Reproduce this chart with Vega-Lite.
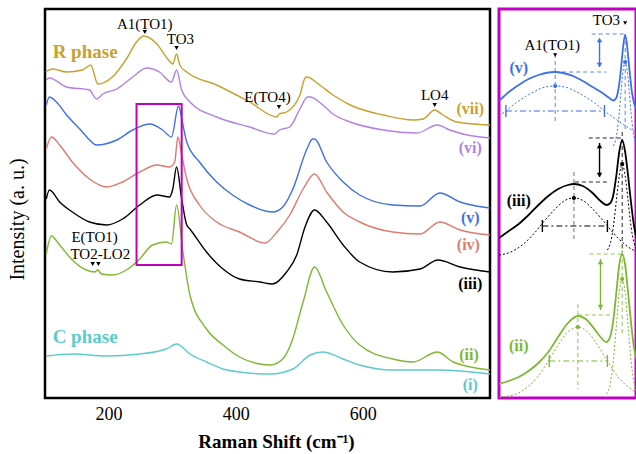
{
"$schema":"https://vega.github.io/schema/vega-lite/v6.json",
"background":"white",
"padding":{"left":5,"top":7,"right":0,"bottom":0},
"spacing":2,
"config":{"font":"Liberation Serif"},
"datasets":{
"spectra":[
{"c":"vii","x":101,"y":326},{"c":"vii","x":112,"y":329},{"c":"vii","x":134,"y":326},{"c":"vii","x":159,"y":328},{"c":"vii","x":172,"y":333},{"c":"vii","x":183,"y":314},{"c":"vii","x":206,"y":321},{"c":"vii","x":228,"y":339},{"c":"vii","x":244,"y":356},{"c":"vii","x":255,"y":362},{"c":"vii","x":276,"y":354},{"c":"vii","x":293,"y":339},{"c":"vii","x":301,"y":334},{"c":"vii","x":307,"y":344},{"c":"vii","x":312,"y":333},{"c":"vii","x":323,"y":326},{"c":"vii","x":370,"y":313},{"c":"vii","x":422,"y":296},{"c":"vii","x":465,"y":281},{"c":"vii","x":468,"y":284},{"c":"vii","x":480,"y":286},{"c":"vii","x":501,"y":303},{"c":"vii","x":509,"y":320},{"c":"vii","x":512,"y":321},{"c":"vii","x":532,"y":313},{"c":"vii","x":553,"y":303},{"c":"vii","x":580,"y":293},{"c":"vii","x":632,"y":283},{"c":"vii","x":679,"y":278},{"c":"vii","x":695,"y":279},{"c":"vii","x":713,"y":288},{"c":"vii","x":726,"y":283},{"c":"vii","x":748,"y":276},{"c":"vii","x":800,"y":273},
{"c":"vi","x":102,"y":318},{"c":"vi","x":107,"y":320},{"c":"vi","x":134,"y":311},{"c":"vi","x":170,"y":308},{"c":"vi","x":181,"y":299},{"c":"vi","x":191,"y":304},{"c":"vi","x":213,"y":309},{"c":"vi","x":238,"y":321},{"c":"vi","x":260,"y":330},{"c":"vi","x":280,"y":326},{"c":"vi","x":299,"y":316},{"c":"vi","x":307,"y":328},{"c":"vi","x":315,"y":308},{"c":"vi","x":328,"y":296},{"c":"vi","x":370,"y":281},{"c":"vi","x":422,"y":271},{"c":"vi","x":461,"y":264},{"c":"vi","x":469,"y":268},{"c":"vi","x":485,"y":271},{"c":"vi","x":501,"y":289},{"c":"vi","x":513,"y":301},{"c":"vi","x":517,"y":301},{"c":"vi","x":537,"y":293},{"c":"vi","x":553,"y":284},{"c":"vi","x":580,"y":276},{"c":"vi","x":632,"y":268},{"c":"vi","x":685,"y":265},{"c":"vi","x":717,"y":273},{"c":"vi","x":737,"y":268},{"c":"vi","x":764,"y":263},{"c":"vi","x":800,"y":260},
{"c":"v","x":102,"y":293},{"c":"v","x":107,"y":301},{"c":"v","x":118,"y":296},{"c":"v","x":134,"y":283},{"c":"v","x":159,"y":266},{"c":"v","x":170,"y":258},{"c":"v","x":181,"y":253},{"c":"v","x":213,"y":258},{"c":"v","x":238,"y":268},{"c":"v","x":265,"y":274},{"c":"v","x":285,"y":268},{"c":"v","x":299,"y":261},{"c":"v","x":310,"y":292},{"c":"v","x":317,"y":273},{"c":"v","x":323,"y":256},{"c":"v","x":343,"y":236},{"c":"v","x":370,"y":216},{"c":"v","x":395,"y":203},{"c":"v","x":422,"y":193},{"c":"v","x":458,"y":186},{"c":"v","x":474,"y":191},{"c":"v","x":490,"y":209},{"c":"v","x":512,"y":249},{"c":"v","x":521,"y":259},{"c":"v","x":524,"y":259},{"c":"v","x":543,"y":236},{"c":"v","x":569,"y":216},{"c":"v","x":595,"y":203},{"c":"v","x":647,"y":193},{"c":"v","x":690,"y":192},{"c":"v","x":721,"y":205},{"c":"v","x":753,"y":196},{"c":"v","x":800,"y":190},
{"c":"iv","x":102,"y":249},{"c":"iv","x":110,"y":261},{"c":"iv","x":123,"y":253},{"c":"iv","x":143,"y":236},{"c":"iv","x":170,"y":219},{"c":"iv","x":197,"y":211},{"c":"iv","x":222,"y":216},{"c":"iv","x":249,"y":226},{"c":"iv","x":276,"y":233},{"c":"iv","x":296,"y":231},{"c":"iv","x":304,"y":236},{"c":"iv","x":309,"y":261},{"c":"iv","x":315,"y":243},{"c":"iv","x":323,"y":219},{"c":"iv","x":343,"y":193},{"c":"iv","x":370,"y":176},{"c":"iv","x":406,"y":166},{"c":"iv","x":446,"y":155},{"c":"iv","x":465,"y":166},{"c":"iv","x":485,"y":183},{"c":"iv","x":506,"y":209},{"c":"iv","x":524,"y":224},{"c":"iv","x":543,"y":206},{"c":"iv","x":569,"y":186},{"c":"iv","x":595,"y":176},{"c":"iv","x":647,"y":166},{"c":"iv","x":690,"y":164},{"c":"iv","x":721,"y":176},{"c":"iv","x":753,"y":168},{"c":"iv","x":800,"y":163},
{"c":"iii","x":102,"y":199},{"c":"iii","x":107,"y":208},{"c":"iii","x":123,"y":196},{"c":"iii","x":143,"y":186},{"c":"iii","x":170,"y":176},{"c":"iii","x":197,"y":173},{"c":"iii","x":222,"y":179},{"c":"iii","x":249,"y":193},{"c":"iii","x":276,"y":203},{"c":"iii","x":296,"y":201},{"c":"iii","x":301,"y":209},{"c":"iii","x":307,"y":231},{"c":"iii","x":315,"y":199},{"c":"iii","x":323,"y":173},{"c":"iii","x":328,"y":169},{"c":"iii","x":354,"y":146},{"c":"iii","x":380,"y":129},{"c":"iii","x":406,"y":119},{"c":"iii","x":438,"y":116},{"c":"iii","x":458,"y":114},{"c":"iii","x":480,"y":126},{"c":"iii","x":496,"y":143},{"c":"iii","x":509,"y":171},{"c":"iii","x":524,"y":188},{"c":"iii","x":543,"y":176},{"c":"iii","x":569,"y":153},{"c":"iii","x":595,"y":136},{"c":"iii","x":647,"y":126},{"c":"iii","x":690,"y":129},{"c":"iii","x":718,"y":138},{"c":"iii","x":753,"y":131},{"c":"iii","x":800,"y":126},
{"c":"ii","x":102,"y":144},{"c":"ii","x":110,"y":162},{"c":"ii","x":123,"y":153},{"c":"ii","x":143,"y":138},{"c":"ii","x":165,"y":128},{"c":"ii","x":178,"y":126},{"c":"ii","x":183,"y":128},{"c":"ii","x":189,"y":124},{"c":"ii","x":206,"y":123},{"c":"ii","x":228,"y":128},{"c":"ii","x":249,"y":139},{"c":"ii","x":269,"y":153},{"c":"ii","x":291,"y":156},{"c":"ii","x":299,"y":154},{"c":"ii","x":307,"y":193},{"c":"ii","x":317,"y":146},{"c":"ii","x":328,"y":103},{"c":"ii","x":354,"y":69},{"c":"ii","x":380,"y":53},{"c":"ii","x":406,"y":41},{"c":"ii","x":438,"y":34},{"c":"ii","x":454,"y":33},{"c":"ii","x":474,"y":39},{"c":"ii","x":488,"y":56},{"c":"ii","x":506,"y":96},{"c":"ii","x":524,"y":131},{"c":"ii","x":543,"y":106},{"c":"ii","x":569,"y":73},{"c":"ii","x":595,"y":53},{"c":"ii","x":647,"y":39},{"c":"ii","x":679,"y":36},{"c":"ii","x":717,"y":46},{"c":"ii","x":742,"y":36},{"c":"ii","x":800,"y":28},
{"c":"i","x":102,"y":42},{"c":"i","x":143,"y":44},{"c":"i","x":197,"y":42},{"c":"i","x":249,"y":44},{"c":"i","x":291,"y":49},{"c":"i","x":307,"y":54},{"c":"i","x":328,"y":44},{"c":"i","x":354,"y":36},{"c":"i","x":380,"y":29},{"c":"i","x":406,"y":26},{"c":"i","x":454,"y":24},{"c":"i","x":490,"y":29},{"c":"i","x":517,"y":43},{"c":"i","x":537,"y":46},{"c":"i","x":569,"y":39},{"c":"i","x":595,"y":33},{"c":"i","x":647,"y":28},{"c":"i","x":717,"y":28},{"c":"i","x":800,"y":24}
],
"box":[{"x":244,"x2":315,"y":133,"y2":294}],
"majorTicks":[{"x":200},{"x":400},{"x":600}],
"minorTicks":[{"x":300},{"x":500},{"x":700}],
"leftText":[
{"t":"A1(TO1)","x":257,"y":374,"c":"k","g":"mode"},{"t":"TO3","x":313,"y":359,"c":"k","g":"mode"},{"t":"E(TO4)","x":450,"y":301,"c":"k","g":"mode"},{"t":"LO4","x":713,"y":303,"c":"k","g":"mode"},{"t":"E(TO1)","x":178,"y":161,"c":"k","g":"mode"},{"t":"TO2-LO2","x":187,"y":144,"c":"k","g":"mode"},
{"t":"R phase","x":112,"y":346,"c":"vii","g":"phase"},{"t":"C phase","x":112,"y":61,"c":"i","g":"phase"},
{"t":"(vii)","x":769,"y":289,"c":"vii","g":"id"},{"t":"(vi)","x":769,"y":250,"c":"vi","g":"id"},{"t":"(v)","x":769,"y":180,"c":"v","g":"id"},{"t":"(iv)","x":766,"y":153,"c":"iv","g":"id"},{"t":"(iii)","x":769,"y":114,"c":"iii","g":"id"},{"t":"(ii)","x":767,"y":43,"c":"ii","g":"id"},{"t":"(i)","x":769,"y":13,"c":"i","g":"id"}
],
"leftMarks":[{"x":257,"y":366},{"x":307,"y":350},{"x":468,"y":291},{"x":713,"y":293},{"x":175,"y":134},{"x":184,"y":134}],
"fit":[
{"c":"v","k":"sum","x":0,"y":297},{"c":"v","k":"sum","x":10,"y":306},{"c":"v","k":"sum","x":20,"y":313},{"c":"v","k":"sum","x":30,"y":319},{"c":"v","k":"sum","x":40,"y":323},{"c":"v","k":"sum","x":50,"y":325.5},{"c":"v","k":"sum","x":56,"y":326},{"c":"v","k":"sum","x":65,"y":325},{"c":"v","k":"sum","x":75,"y":322},{"c":"v","k":"sum","x":85,"y":317},{"c":"v","k":"sum","x":95,"y":311},{"c":"v","k":"sum","x":105,"y":305},{"c":"v","k":"sum","x":112,"y":300},{"c":"v","k":"sum","x":116,"y":297.5},{"c":"v","k":"sum","x":119,"y":300},{"c":"v","k":"sum","x":121,"y":308},{"c":"v","k":"sum","x":123,"y":322},{"c":"v","k":"sum","x":125,"y":342},{"c":"v","k":"sum","x":126,"y":352},{"c":"v","k":"sum","x":128,"y":363},{"c":"v","k":"sum","x":130,"y":352},{"c":"v","k":"sum","x":131,"y":342},{"c":"v","k":"sum","x":133,"y":322},{"c":"v","k":"sum","x":135,"y":305},{"c":"v","k":"sum","x":137,"y":295},{"c":"v","k":"sum","x":140,"y":288},
{"c":"v","k":"broad","x":0,"y":282},{"c":"v","k":"broad","x":7,"y":287},{"c":"v","k":"broad","x":17,"y":295},{"c":"v","k":"broad","x":27,"y":301.5},{"c":"v","k":"broad","x":37,"y":307},{"c":"v","k":"broad","x":47,"y":311},{"c":"v","k":"broad","x":57,"y":312},{"c":"v","k":"broad","x":67,"y":311},{"c":"v","k":"broad","x":77,"y":307},{"c":"v","k":"broad","x":87,"y":301.5},{"c":"v","k":"broad","x":97,"y":295},{"c":"v","k":"broad","x":107,"y":287},{"c":"v","k":"broad","x":117,"y":280},{"c":"v","k":"broad","x":127,"y":273},{"c":"v","k":"broad","x":140,"y":265},
{"c":"v","k":"narrow","x":116,"y":252},{"c":"v","k":"narrow","x":118,"y":257},{"c":"v","k":"narrow","x":120,"y":267},{"c":"v","k":"narrow","x":122,"y":285},{"c":"v","k":"narrow","x":124,"y":308},{"c":"v","k":"narrow","x":126,"y":328},{"c":"v","k":"narrow","x":128,"y":336},{"c":"v","k":"narrow","x":130,"y":328},{"c":"v","k":"narrow","x":132,"y":308},{"c":"v","k":"narrow","x":134,"y":285},{"c":"v","k":"narrow","x":136,"y":267},{"c":"v","k":"narrow","x":138,"y":257},{"c":"v","k":"narrow","x":140,"y":252},
{"c":"iii","k":"sum","x":0,"y":160},{"c":"iii","k":"sum","x":10,"y":167},{"c":"iii","k":"sum","x":20,"y":174},{"c":"iii","k":"sum","x":30,"y":183},{"c":"iii","k":"sum","x":40,"y":193},{"c":"iii","k":"sum","x":50,"y":202},{"c":"iii","k":"sum","x":60,"y":209},{"c":"iii","k":"sum","x":70,"y":213},{"c":"iii","k":"sum","x":76,"y":214},{"c":"iii","k":"sum","x":85,"y":212},{"c":"iii","k":"sum","x":95,"y":205},{"c":"iii","k":"sum","x":103,"y":197},{"c":"iii","k":"sum","x":109,"y":193},{"c":"iii","k":"sum","x":113,"y":195},{"c":"iii","k":"sum","x":116,"y":203},{"c":"iii","k":"sum","x":119,"y":222},{"c":"iii","k":"sum","x":122,"y":246},{"c":"iii","k":"sum","x":125,"y":258},{"c":"iii","k":"sum","x":128,"y":246},{"c":"iii","k":"sum","x":131,"y":222},{"c":"iii","k":"sum","x":134,"y":195},{"c":"iii","k":"sum","x":137,"y":172},{"c":"iii","k":"sum","x":140,"y":158},
{"c":"iii","k":"broad","x":0,"y":143},{"c":"iii","k":"broad","x":6,"y":144},{"c":"iii","k":"broad","x":16,"y":148},{"c":"iii","k":"broad","x":26,"y":155},{"c":"iii","k":"broad","x":36,"y":165},{"c":"iii","k":"broad","x":46,"y":177},{"c":"iii","k":"broad","x":56,"y":188},{"c":"iii","k":"broad","x":66,"y":197},{"c":"iii","k":"broad","x":76,"y":200},{"c":"iii","k":"broad","x":86,"y":197},{"c":"iii","k":"broad","x":96,"y":188},{"c":"iii","k":"broad","x":106,"y":177},{"c":"iii","k":"broad","x":116,"y":165},{"c":"iii","k":"broad","x":126,"y":155},{"c":"iii","k":"broad","x":136,"y":148},{"c":"iii","k":"broad","x":140,"y":146},
{"c":"iii","k":"narrow","x":110,"y":148},{"c":"iii","k":"narrow","x":113,"y":155},{"c":"iii","k":"narrow","x":116,"y":171},{"c":"iii","k":"narrow","x":119,"y":197},{"c":"iii","k":"narrow","x":122,"y":222},{"c":"iii","k":"narrow","x":125,"y":234},{"c":"iii","k":"narrow","x":128,"y":222},{"c":"iii","k":"narrow","x":131,"y":197},{"c":"iii","k":"narrow","x":134,"y":171},{"c":"iii","k":"narrow","x":137,"y":155},{"c":"iii","k":"narrow","x":140,"y":148},
{"c":"ii","k":"sum","x":0,"y":14},{"c":"ii","k":"sum","x":10,"y":17},{"c":"ii","k":"sum","x":20,"y":21},{"c":"ii","k":"sum","x":30,"y":27},{"c":"ii","k":"sum","x":40,"y":35},{"c":"ii","k":"sum","x":50,"y":46},{"c":"ii","k":"sum","x":60,"y":61},{"c":"ii","k":"sum","x":70,"y":75},{"c":"ii","k":"sum","x":80,"y":82},{"c":"ii","k":"sum","x":88,"y":79},{"c":"ii","k":"sum","x":96,"y":70},{"c":"ii","k":"sum","x":103,"y":61},{"c":"ii","k":"sum","x":109,"y":56},{"c":"ii","k":"sum","x":113,"y":62},{"c":"ii","k":"sum","x":116,"y":78},{"c":"ii","k":"sum","x":119,"y":105},{"c":"ii","k":"sum","x":122,"y":133},{"c":"ii","k":"sum","x":125,"y":144},{"c":"ii","k":"sum","x":128,"y":133},{"c":"ii","k":"sum","x":131,"y":105},{"c":"ii","k":"sum","x":134,"y":75},{"c":"ii","k":"sum","x":137,"y":50},{"c":"ii","k":"sum","x":140,"y":38},
{"c":"ii","k":"broad","x":0,"y":1},{"c":"ii","k":"broad","x":10,"y":2},{"c":"ii","k":"broad","x":20,"y":5},{"c":"ii","k":"broad","x":30,"y":12},{"c":"ii","k":"broad","x":40,"y":22},{"c":"ii","k":"broad","x":50,"y":37},{"c":"ii","k":"broad","x":60,"y":53},{"c":"ii","k":"broad","x":70,"y":66},{"c":"ii","k":"broad","x":80,"y":71},{"c":"ii","k":"broad","x":90,"y":66},{"c":"ii","k":"broad","x":100,"y":53},{"c":"ii","k":"broad","x":110,"y":37},{"c":"ii","k":"broad","x":120,"y":22},{"c":"ii","k":"broad","x":130,"y":12},{"c":"ii","k":"broad","x":140,"y":5},
{"c":"ii","k":"narrow","x":109,"y":4},{"c":"ii","k":"narrow","x":113,"y":15},{"c":"ii","k":"narrow","x":116,"y":37},{"c":"ii","k":"narrow","x":119,"y":71},{"c":"ii","k":"narrow","x":122,"y":105},{"c":"ii","k":"narrow","x":125,"y":119},{"c":"ii","k":"narrow","x":128,"y":105},{"c":"ii","k":"narrow","x":131,"y":71},{"c":"ii","k":"narrow","x":134,"y":37},{"c":"ii","k":"narrow","x":137,"y":15},{"c":"ii","k":"narrow","x":140,"y":5}
],
"guides":[
{"c":"v","k":"dash","x":57,"y":344,"x2":57,"y2":277},{"c":"v","k":"dash","x":128,"y":364,"x2":128,"y2":269},{"c":"v","k":"dash","x":94,"y":364,"x2":127,"y2":364},{"c":"v","k":"dash","x":57,"y":326,"x2":109,"y2":326},
{"c":"v","k":"dashdot","x":7,"y":287,"x2":107,"y2":287},{"c":"v","k":"solid","x":7,"y":281,"x2":7,"y2":293},{"c":"v","k":"solid","x":107,"y":281,"x2":107,"y2":293},{"c":"v","k":"solid","x":102,"y":359,"x2":102,"y2":331},
{"c":"iii-b","k":"dash","x":76,"y":226,"x2":76,"y2":158},{"c":"iii","k":"dash","x":125,"y":266,"x2":125,"y2":146},{"c":"iii","k":"dash","x":91,"y":260,"x2":124,"y2":260},{"c":"iii","k":"dash","x":77,"y":216,"x2":111,"y2":216},
{"c":"iii","k":"dashdot","x":44,"y":172,"x2":110,"y2":172},{"c":"iii","k":"solid","x":44,"y":166,"x2":44,"y2":178},{"c":"iii","k":"solid","x":110,"y":166,"x2":110,"y2":178},{"c":"iii","k":"solid","x":102,"y":255,"x2":102,"y2":221},
{"c":"ii","k":"dash","x":80,"y":94,"x2":80,"y2":9},{"c":"ii","k":"dash","x":125,"y":153,"x2":125,"y2":63},{"c":"ii","k":"dash","x":92,"y":144,"x2":124,"y2":144},{"c":"ii","k":"dash","x":80,"y":83,"x2":114,"y2":83},
{"c":"ii","k":"dashdot","x":51,"y":37,"x2":110,"y2":37},{"c":"ii","k":"solid","x":51,"y":31,"x2":51,"y2":43},{"c":"ii","k":"solid","x":110,"y":31,"x2":110,"y2":43},{"c":"ii","k":"solid","x":103,"y":139,"x2":103,"y2":88}
],
"heads":[
{"c":"v","d":"up","x":102,"y":358},{"c":"v","d":"down","x":102,"y":333},
{"c":"iii","d":"up","x":102,"y":252},{"c":"iii","d":"down","x":102,"y":223},
{"c":"ii","d":"up","x":103,"y":136},{"c":"ii","d":"down","x":103,"y":91}
],
"dots":[{"c":"v","x":57,"y":312},{"c":"v","x":128,"y":336},{"c":"iii","x":76,"y":200},{"c":"iii","x":125,"y":234},{"c":"ii","x":80,"y":71},{"c":"ii","x":125,"y":119}],
"rightText":[
{"t":"TO3","x":109,"y":378,"c":"k","g":"mode"},{"t":"A1(TO1)","x":54,"y":353,"c":"k","g":"mode"},
{"t":"(v)","x":20,"y":330,"c":"v","g":"id"},{"t":"(iii)","x":20,"y":197,"c":"iii","g":"id"},{"t":"(ii)","x":20,"y":52,"c":"ii","g":"id"}
],
"rightMarks":[{"x":128,"y":375},{"x":57,"y":343}]
},
"hconcat":[
{
"width":445,"height":389,
"view":{"stroke":"black","strokeWidth":2.5},
"encoding":{
"x":{"field":"x","type":"quantitative","scale":{"domain":[100,800],"nice":false,"zero":false},
"axis":{"title":"Raman Shift (cm⁻¹)","values":[200,400,600],"ticks":false,"domain":false,"grid":false,"labelFont":"Liberation Serif","labelFontSize":18,"labelColor":"black","labelPadding":7,"titleFont":"Liberation Serif","titleFontSize":19,"titleFontWeight":"bold","titleColor":"black","titlePadding":9,"titleX":231}},
"y":{"field":"y","type":"quantitative","scale":{"domain":[0,389],"nice":false,"zero":false},
"axis":{"title":"Intensity (a. u.)","domain":false,"ticks":false,"labels":false,"grid":false,"titleFont":"Liberation Serif","titleFontSize":20,"titleFontWeight":"normal","titleColor":"black","titlePadding":18,"titleY":210}}
},
"layer":[
{"data":{"name":"spectra"},"mark":{"type":"line","strokeWidth":1.4,"interpolate":"monotone"},
"encoding":{"color":{"field":"c","type":"nominal","scale":{"domain":["vii","vi","v","iv","iii","ii","i","iii-b","k"],"range":["#c9a02e","#b380e6","#3d6fe6","#e07a6e","#000000","#7cb82f","#5ccbcc","#8b4a3a","#000000"]},"legend":null}}},
{"data":{"name":"box"},"mark":{"type":"rect","filled":false,"stroke":"#c000c0","strokeWidth":2},
"encoding":{"x2":{"field":"x2"},"y2":{"field":"y2"}}},
{"data":{"name":"majorTicks"},"mark":{"type":"rule","color":"black","strokeWidth":1.5},
"encoding":{"y":{"datum":0},"y2":{"datum":7}}},
{"data":{"name":"minorTicks"},"mark":{"type":"rule","color":"black","strokeWidth":1.2},
"encoding":{"y":{"datum":0},"y2":{"datum":4}}},
{"data":{"name":"leftMarks"},"mark":{"type":"point","shape":"triangle-down","filled":true,"size":20,"color":"black","opacity":1}},
{"data":{"name":"leftText"},"transform":[{"filter":"datum.g == 'mode'"}],"mark":{"type":"text","font":"Liberation Serif","fontSize":15,"align":"center","baseline":"middle"},
"encoding":{"text":{"field":"t"},"color":{"field":"c","type":"nominal","scale":{"domain":["vii","vi","v","iv","iii","ii","i","iii-b","k"],"range":["#c9a02e","#b380e6","#3d6fe6","#e07a6e","#000000","#7cb82f","#5ccbcc","#8b4a3a","#000000"]},"legend":null}}},
{"data":{"name":"leftText"},"transform":[{"filter":"datum.g == 'phase'"}],"mark":{"type":"text","font":"Liberation Serif","fontSize":19,"fontWeight":"bold","align":"left","baseline":"middle"},
"encoding":{"text":{"field":"t"},"color":{"field":"c","type":"nominal","scale":{"domain":["vii","vi","v","iv","iii","ii","i","iii-b","k"],"range":["#c9a02e","#b380e6","#3d6fe6","#e07a6e","#000000","#7cb82f","#5ccbcc","#8b4a3a","#000000"]},"legend":null}}},
{"data":{"name":"leftText"},"transform":[{"filter":"datum.g == 'id'"}],"mark":{"type":"text","font":"Liberation Serif","fontSize":16,"fontWeight":"bold","align":"center","baseline":"middle"},
"encoding":{"text":{"field":"t"},"color":{"field":"c","type":"nominal","scale":{"domain":["vii","vi","v","iv","iii","ii","i","iii-b","k"],"range":["#c9a02e","#b380e6","#3d6fe6","#e07a6e","#000000","#7cb82f","#5ccbcc","#8b4a3a","#000000"]},"legend":null}}}
]
},
{
"width":137,"height":389,
"view":{"stroke":"#c000c0","strokeWidth":3},
"encoding":{
"x":{"field":"x","type":"quantitative","scale":{"domain":[0,139],"nice":false,"zero":false},"axis":null},
"y":{"field":"y","type":"quantitative","scale":{"domain":[0,389],"nice":false,"zero":false},"axis":null}
},
"layer":[
{"data":{"name":"fit"},"transform":[{"filter":"datum.k == 'sum'"}],"mark":{"type":"line","strokeWidth":1.8,"clip":true,"interpolate":"monotone"},
"encoding":{"detail":{"field":"c"},"color":{"field":"c","type":"nominal","scale":{"domain":["vii","vi","v","iv","iii","ii","i","iii-b","k"],"range":["#c9a02e","#b380e6","#3d6fe6","#e07a6e","#000000","#7cb82f","#5ccbcc","#8b4a3a","#000000"]},"legend":null}}},
{"data":{"name":"fit"},"transform":[{"filter":"datum.k != 'sum'"}],"mark":{"type":"line","strokeWidth":1,"strokeDash":[2,2],"clip":true,"interpolate":"monotone"},
"encoding":{"detail":[{"field":"c"},{"field":"k"}],"color":{"field":"c","type":"nominal","scale":{"domain":["vii","vi","v","iv","iii","ii","i","iii-b","k"],"range":["#c9a02e","#b380e6","#3d6fe6","#e07a6e","#000000","#7cb82f","#5ccbcc","#8b4a3a","#000000"]},"legend":null}}},
{"data":{"name":"guides"},"transform":[{"filter":"datum.k == 'dash'"}],"mark":{"type":"rule","strokeWidth":1,"strokeDash":[4,3],"opacity":0.85},
"encoding":{"x2":{"field":"x2"},"y2":{"field":"y2"},"color":{"field":"c","type":"nominal","scale":{"domain":["vii","vi","v","iv","iii","ii","i","iii-b","k"],"range":["#c9a02e","#b380e6","#3d6fe6","#e07a6e","#000000","#7cb82f","#5ccbcc","#8b4a3a","#000000"]},"legend":null}}},
{"data":{"name":"guides"},"transform":[{"filter":"datum.k == 'dashdot'"}],"mark":{"type":"rule","strokeWidth":1.1,"strokeDash":[6,3,2,3]},
"encoding":{"x2":{"field":"x2"},"y2":{"field":"y2"},"color":{"field":"c","type":"nominal","scale":{"domain":["vii","vi","v","iv","iii","ii","i","iii-b","k"],"range":["#c9a02e","#b380e6","#3d6fe6","#e07a6e","#000000","#7cb82f","#5ccbcc","#8b4a3a","#000000"]},"legend":null}}},
{"data":{"name":"guides"},"transform":[{"filter":"datum.k == 'solid'"}],"mark":{"type":"rule","strokeWidth":1.4},
"encoding":{"x2":{"field":"x2"},"y2":{"field":"y2"},"color":{"field":"c","type":"nominal","scale":{"domain":["vii","vi","v","iv","iii","ii","i","iii-b","k"],"range":["#c9a02e","#b380e6","#3d6fe6","#e07a6e","#000000","#7cb82f","#5ccbcc","#8b4a3a","#000000"]},"legend":null}}},
{"data":{"name":"heads"},"mark":{"type":"point","filled":true,"size":30,"opacity":1},
"encoding":{"shape":{"field":"d","type":"nominal","scale":{"domain":["up","down"],"range":["triangle-up","triangle-down"]},"legend":null},"color":{"field":"c","type":"nominal","scale":{"domain":["vii","vi","v","iv","iii","ii","i","iii-b","k"],"range":["#c9a02e","#b380e6","#3d6fe6","#e07a6e","#000000","#7cb82f","#5ccbcc","#8b4a3a","#000000"]},"legend":null}}},
{"data":{"name":"dots"},"mark":{"type":"point","shape":"circle","filled":true,"size":18,"opacity":1},
"encoding":{"color":{"field":"c","type":"nominal","scale":{"domain":["vii","vi","v","iv","iii","ii","i","iii-b","k"],"range":["#c9a02e","#b380e6","#3d6fe6","#e07a6e","#000000","#7cb82f","#5ccbcc","#8b4a3a","#000000"]},"legend":null}}},
{"data":{"name":"rightMarks"},"mark":{"type":"point","shape":"triangle-down","filled":true,"size":18,"color":"black","opacity":1}},
{"data":{"name":"rightText"},"transform":[{"filter":"datum.g == 'mode'"}],"mark":{"type":"text","font":"Liberation Serif","fontSize":15,"align":"center","baseline":"middle"},
"encoding":{"text":{"field":"t"},"color":{"field":"c","type":"nominal","scale":{"domain":["vii","vi","v","iv","iii","ii","i","iii-b","k"],"range":["#c9a02e","#b380e6","#3d6fe6","#e07a6e","#000000","#7cb82f","#5ccbcc","#8b4a3a","#000000"]},"legend":null}}},
{"data":{"name":"rightText"},"transform":[{"filter":"datum.g == 'id'"}],"mark":{"type":"text","font":"Liberation Serif","fontSize":16,"fontWeight":"bold","align":"center","baseline":"middle"},
"encoding":{"text":{"field":"t"},"color":{"field":"c","type":"nominal","scale":{"domain":["vii","vi","v","iv","iii","ii","i","iii-b","k"],"range":["#c9a02e","#b380e6","#3d6fe6","#e07a6e","#000000","#7cb82f","#5ccbcc","#8b4a3a","#000000"]},"legend":null}}}
]
}
]
}
